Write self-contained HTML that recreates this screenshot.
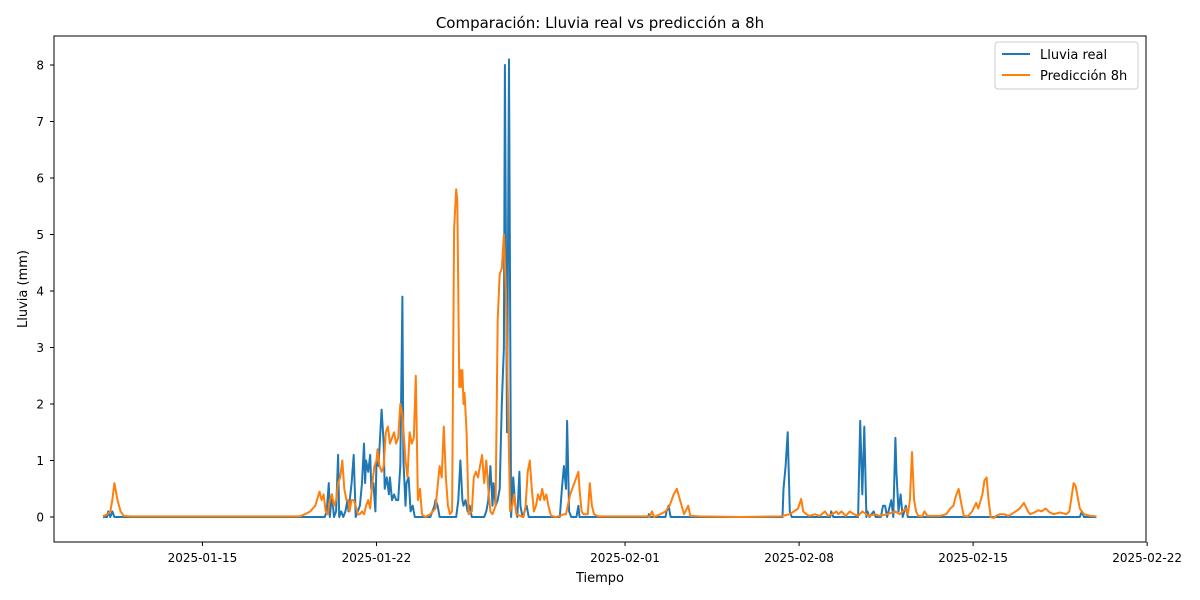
<!DOCTYPE html>
<html><head><meta charset="utf-8"><style>
body{margin:0;background:#fff;}
svg{display:block;font-family:"DejaVu Sans","Liberation Sans",sans-serif;}
</style></head><body>
<svg id="chart" width="1200" height="600">
<rect width="1200" height="600" fill="#fff"/>
<text x="600" y="28" text-anchor="middle" font-size="15">Comparación: Lluvia real vs predicción a 8h</text>
<rect x="54" y="36" width="1092" height="506" fill="none" stroke="#000" stroke-width="1"/>
<g id="yticks"></g>
<g id="xticks"></g>
<text x="600" y="582" text-anchor="middle" font-size="13">Tiempo</text>
<text transform="translate(27,289) rotate(-90)" text-anchor="middle" font-size="13">Lluvia (mm)</text>
<g id="series"></g>
<g>
<rect x="995" y="42" width="143" height="47" rx="3" fill="#fff" stroke="#ccc"/>
<line x1="1002" y1="54" x2="1030" y2="54" stroke="#1f77b4" stroke-width="2"/>
<text x="1040" y="59" font-size="13">Lluvia real</text>
<line x1="1002" y1="75" x2="1030" y2="75" stroke="#ff7f0e" stroke-width="2"/>
<text x="1040" y="80" font-size="13">Predicción 8h</text>
</g>
</svg>
<script>
// hours since 2025-01-11 00:00
const realHours=[0,4,5,7,9,11,214,216,218,219,221,223,225,227,228,230,232,234,236,237,240,242,244,246,248,250,252,253,254,256,258,259,261,263,264,266,269,271,272,274,276,277,279,281,283,285,287,289,290,292,293,295,297,299,301,316,318,320,321,323,325,341,343,345,347,348,350,352,354,356,368,370,372,374,376,377,379,381,383,385,387,388,390,392,394,396,398,400,402,403,405,409,411,441,443,445,447,448,450,452,457,459,460,526,527,528,543,544,546,548,656,657,659,661,663,665,702,703,705,729,731,733,735,737,738,740,744,746,751,753,755,757,761,763,765,766,768,770,772,775,777,943,945,947,959];
const realValues=[0,0,.1,0,.1,0,0,.1,.6,0,.4,0,.1,1.1,0,.1,0,.1,.3,.1,.6,1.1,0,.1,.2,.6,1.3,.6,1.0,.8,1.1,.5,.6,.1,1.0,.9,1.9,1.3,.5,.7,.4,.7,.3,.4,.3,.3,.9,3.9,1.0,.2,.6,.7,.1,.2,0,0,.1,.2,.3,.2,0,0,.3,1.0,.3,.2,.3,.1,.2,0,0,.1,.3,.9,.2,.6,.2,.3,.5,2.0,3.0,8.0,1.5,8.1,0,.7,.2,0,.8,.2,0,.2,0,0,.5,.9,.5,1.7,.1,0,0,.2,0,0,.05,0,0,.1,.2,0,0,.5,.9,1.5,.1,0,0,.1,0,0,1.7,.4,1.6,0,.1,0,.1,0,0,.2,.2,0,.3,0,1.4,.8,.1,.4,0,.2,0,0,.1,0,0];
const predHours=[0,4,7,9,11,13,14,17,20,26,190,195,200,205,209,211,213,215,217,219,221,223,225,227,229,231,233,235,237,238,240,242,244,246,248,250,252,254,256,258,260,262,264,265,267,269,271,273,275,277,279,281,283,285,287,289,291,292,294,296,298,300,302,304,306,308,311,316,321,325,327,329,331,333,335,337,339,341,342,344,345,346,347,348,349,351,353,356,358,360,362,364,366,368,370,372,374,376,377,379,381,383,385,387,389,391,393,395,397,399,403,406,408,410,412,414,416,418,420,422,424,426,428,430,432,433,437,441,445,447,451,455,459,460,462,464,468,470,472,474,478,528,530,532,538,543,547,551,554,557,561,565,567,576,615,654,663,667,671,674,676,679,682,687,692,697,700,704,708,710,713,717,721,725,729,733,737,740,745,750,757,765,769,772,775,777,779,781,783,785,787,791,793,796,808,814,818,821,823,826,829,831,835,839,843,845,849,851,853,855,857,860,862,866,870,874,877,881,885,889,893,895,899,903,906,910,914,918,924,930,933,937,939,941,943,947,953,959];
const predValues=[.01,.05,.1,.3,.6,.4,.3,.1,.02,.01,.01,.05,.1,.2,.45,.3,.4,.1,.05,.3,.4,.2,.3,.6,.7,1.0,.5,.3,.3,.1,.3,.3,.2,.05,.05,.1,.05,.2,.3,.15,.6,.9,1.0,1.2,.9,.8,.9,1.5,1.6,1.3,1.4,1.5,1.3,1.4,2.0,1.8,1.3,1.0,.7,1.5,1.3,1.4,2.5,.3,.5,.05,0,.05,.15,.9,.7,1.6,.7,.2,.05,.1,5.1,5.8,5.6,2.3,2.6,2.3,2.6,2.0,2.2,1.5,.05,.1,.7,.8,.7,.9,1.1,.6,1.0,.5,.1,.05,.1,.2,3.5,4.3,4.4,5.0,4.0,2.0,.1,.2,.4,.05,.02,0,.2,.8,1.0,.5,.1,.2,.4,.3,.5,.3,.4,.2,.05,.02,0,.02,.05,.05,.4,.6,.8,.5,.1,.05,.05,.6,.2,.05,.01,.01,.1,0,.05,.1,.2,.4,.5,.3,.05,.2,.02,.01,0,.01,.05,.1,.15,.32,.1,.05,.02,.05,.02,.1,.02,.05,.1,.05,.1,.02,.1,.05,.02,.1,.05,.02,.05,.02,.05,.1,.05,.1,.15,.05,.3,1.15,.3,.1,.02,.01,.1,.02,.02,.05,.15,.2,.35,.5,.2,.02,.01,.1,.25,.15,.4,.65,.7,.3,0,-.02,.02,.05,.05,.02,.05,.1,.15,.25,.1,.05,.08,.12,.1,.15,.08,.05,.08,.05,.1,.6,.55,.35,.15,.05,.02,.01];
const yTicks=[0,1,2,3,4,5,6,7,8];
const xTickLabels=["2025-01-15","2025-01-22","2025-02-01","2025-02-08","2025-02-15","2025-02-22"];
const xTickDays=[4,11,21,28,35,42];

const X0=103, PX_PER_HOUR=24.86/24, Y0=517, PX_PER_MM=56.5;
const xs=h=>X0+h*PX_PER_HOUR;
const ys=v=>Y0-v*PX_PER_MM;
const NS="http://www.w3.org/2000/svg";
const yg=document.getElementById('yticks');
yTicks.forEach(t=>{
  const l=document.createElementNS(NS,'line');
  l.setAttribute('x1',50);l.setAttribute('x2',54);l.setAttribute('y1',ys(t));l.setAttribute('y2',ys(t));l.setAttribute('stroke','#000');
  yg.appendChild(l);
  const tx=document.createElementNS(NS,'text');
  
  
  tx.setAttribute('x',44);tx.setAttribute('y',ys(t)+4.5);tx.setAttribute('text-anchor','end');tx.setAttribute('font-size','12');
  tx.textContent=t;yg.appendChild(tx);
});
const xg=document.getElementById('xticks');
xTickDays.forEach((d,i)=>{
  const x=xs(d*24);
  const l=document.createElementNS(NS,'line');
  l.setAttribute('x1',x);l.setAttribute('x2',x);l.setAttribute('y1',542);l.setAttribute('y2',546);l.setAttribute('stroke','#000');
  xg.appendChild(l);
  const tx=document.createElementNS(NS,'text');
  
  
  tx.setAttribute('x',x);tx.setAttribute('y',562);tx.setAttribute('text-anchor','middle');tx.setAttribute('font-size','12');
  tx.textContent=xTickLabels[i];xg.appendChild(tx);
});
function drawLine(hours,vals,color,name){
  const p=document.createElementNS(NS,'polyline');
  
  
  p.setAttribute('points',hours.map((h,i)=>xs(h).toFixed(1)+','+ys(vals[i]).toFixed(1)).join(' '));
  p.setAttribute('fill','none');p.setAttribute('stroke',color);p.setAttribute('stroke-width','2');p.setAttribute('stroke-linejoin','round');
  document.getElementById('series').appendChild(p);
}
drawLine(realHours,realValues,'#1f77b4','real-rain-line');
drawLine(predHours,predValues,'#ff7f0e','prediction-line');
</script>
</body></html>
